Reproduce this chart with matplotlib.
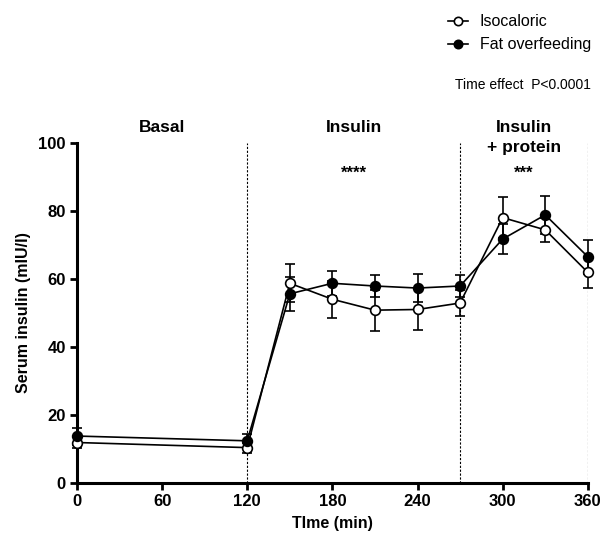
import numpy as np
import matplotlib.pyplot as plt
from matplotlib.lines import Line2D

plt.rcParams['font.family'] = ['Liberation Sans', 'DejaVu Sans']

time_min = [0, 120, 150, 180, 210, 240, 270, 300, 330, 360]

iso_mean = [11.9, 10.4, 58.7, 54.0, 50.8, 51.0, 52.9, 78.0, 74.4, 61.9]
iso_err = [1.5, 1.5, 5.6, 5.4, 6.0, 6.0, 3.7, 6.0, 3.5, 4.5]

fat_mean = [13.8, 12.4, 55.6, 58.7, 57.9, 57.3, 57.9, 71.7, 78.8, 66.5]
fat_err = [2.5, 2.0, 5.0, 3.7, 3.1, 4.2, 3.2, 4.3, 5.6, 5.0]

phase_bounds = [120, 270, 360]
phase_labels = ['Basal', 'Insulin', 'Insulin\n+ protein']
phase_centers = [60, 195, 315]
phase_stars = ['', '****', '***']

fig = plt.figure(figsize=(6.06, 5.47), dpi=100)
ax = fig.add_axes([0.127, 0.117, 0.843, 0.622])

lw = 1.2
ax.errorbar(time_min, iso_mean, yerr=iso_err, color='black', lw=lw,
            marker='o', ms=7, mfc='white', mec='black', mew=1.2,
            ecolor='black', elinewidth=1.2, capsize=3.5, capthick=1.2,
            zorder=3, clip_on=False)
ax.errorbar(time_min, fat_mean, yerr=fat_err, color='black', lw=lw,
            marker='o', ms=7, mfc='black', mec='black', mew=1.2,
            ecolor='black', elinewidth=1.2, capsize=3.5, capthick=1.2,
            zorder=3, clip_on=False)

for xb in phase_bounds:
    ax.axvline(xb, ymin=0, ymax=1, color='black', lw=0.8, ls=(0, (2, 1.5)), zorder=1)

for xc, lab in zip(phase_centers, phase_labels):
    ax.text(xc, 106.6, lab, ha='center', va='top', fontsize=12.5,
            fontweight='bold', linespacing=1.4)
for xc, st in zip(phase_centers, phase_stars):
    if st:
        ax.text(xc, 91.0, st, ha='center', va='center', fontsize=12, fontweight='bold')

ax.set_xlim(0, 360)
ax.set_ylim(0, 100)
ax.set_xticks([0, 60, 120, 180, 240, 300, 360])
ax.set_yticks([0, 20, 40, 60, 80, 100])
for s in ['top', 'right']:
    ax.spines[s].set_visible(False)
for s in ['left', 'bottom']:
    ax.spines[s].set_linewidth(2.2)
ax.tick_params(width=2.0, length=5, labelsize=12, direction='out', pad=3)
for t in ax.get_xticklabels() + ax.get_yticklabels():
    t.set_fontweight('bold')

ax.set_xlabel('TIme (min)', fontsize=11.5, fontweight='bold', labelpad=5)
ax.set_ylabel('Serum insulin (mIU/l)', fontsize=11.5, fontweight='bold', labelpad=5)

h_iso = Line2D([], [], color='black', lw=lw, marker='o', ms=6, mfc='white', mec='black', mew=1.2)
h_fat = Line2D([], [], color='black', lw=lw, marker='o', ms=6, mfc='black', mec='black', mew=1.2)
fig.legend([h_iso, h_fat], ['Isocaloric', 'Fat overfeeding'],
           loc='upper left', bbox_to_anchor=(0.715, 1.0), frameon=False,
           fontsize=11.5, handlelength=1.3, handletextpad=0.7, labelspacing=0.5)
fig.text(0.975, 0.845, 'Time effect  P<0.0001', ha='right', va='center', fontsize=10)

fig.savefig('out.png', dpi=100)
